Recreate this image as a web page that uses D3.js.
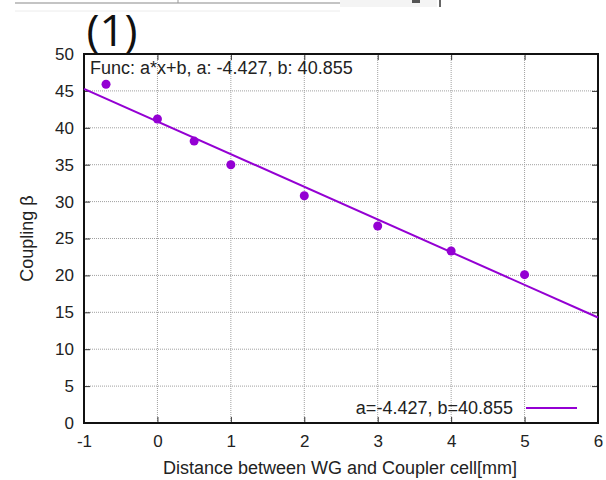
<!DOCTYPE html>
<html>
<head>
<meta charset="utf-8">
<script src="https://cdn.jsdelivr.net/npm/d3@7"></script>
<style>
  body { margin: 0; background: #fff; }
  svg { display: block; }
  text { font-family: "Liberation Sans", Arial, sans-serif; }
</style>
</head>
<body>
<div id="chart"></div>
<script>
// measured points
const distance = [-0.7, 0, 0.5, 1, 2, 3, 4, 5];
const coupling = [45.9, 41.2, 38.2, 35.0, 30.8, 26.7, 23.3, 20.1];

// fit result
const fitA = -4.427;
const fitB = 40.855;

const xTicks = [-1, 0, 1, 2, 3, 4, 5, 6];
const yTicks = [0, 5, 10, 15, 20, 25, 30, 35, 40, 45, 50];

const width = 606;
const height = 480;
const margin = { top: 54, right: 8, bottom: 57, left: 84 };
const purple = '#9400d3';

const svg = d3.select('#chart')
  .append('svg')
  .attr('width', width)
  .attr('height', height);

// bits of the screenshot around the chart
svg.append('line').attr('x1', 15).attr('x2', 340).attr('y1', 3).attr('y2', 3)
  .attr('stroke', '#b0b0b0').attr('stroke-width', 1.5);
svg.append('line').attr('x1', 178).attr('x2', 178).attr('y1', 0).attr('y2', 3)
  .attr('stroke', '#999');
svg.append('line').attr('x1', 15).attr('x2', 340).attr('y1', 11).attr('y2', 11)
  .attr('stroke', '#ececec');
svg.append('rect').attr('x', 340).attr('y', 0).attr('width', 97).attr('height', 7)
  .attr('fill', '#f4f4f4');
svg.append('rect').attr('x', 412).attr('y', 0).attr('width', 8).attr('height', 3)
  .attr('fill', '#555');
svg.append('line').attr('x1', 440).attr('x2', 440).attr('y1', 0).attr('y2', 7)
  .attr('stroke', '#333').attr('stroke-width', 1.5);

svg.append('text')
  .attr('x', 112)
  .attr('y', 46)
  .attr('text-anchor', 'middle')
  .attr('font-size', '44px')
  .style('font-family', '"Open Sans", "Noto Sans", sans-serif')
  .attr('fill', '#111')
  .text('(1)');

const x = d3.scaleLinear()
  .domain([-1, 6])
  .range([margin.left, width - margin.right]);

const y = d3.scaleLinear()
  .domain([0, 50])
  .range([height - margin.bottom, margin.top]);

// dotted grid
const grid = svg.append('g')
  .attr('stroke', '#a0a0a0')
  .attr('stroke-width', 1)
  .attr('stroke-dasharray', '1,1');

grid.selectAll('.gx')
  .data(xTicks.slice(1, -1))
  .join('line')
  .attr('x1', d => x(d)).attr('x2', d => x(d))
  .attr('y1', y(0)).attr('y2', y(50));

grid.selectAll('.gy')
  .data(yTicks.slice(1, -1))
  .join('line')
  .attr('x1', x(-1)).attr('x2', x(6))
  .attr('y1', d => y(d)).attr('y2', d => y(d));

// axes with inward ticks
const plain = d => String(d);

const xAxis = svg.append('g')
  .attr('transform', `translate(0,${y(0)})`)
  .call(d3.axisBottom(x).tickValues(xTicks).tickSize(-6).tickPadding(12).tickFormat(plain));

const xAxisTop = svg.append('g')
  .attr('transform', `translate(0,${y(50)})`)
  .call(d3.axisTop(x).tickValues(xTicks).tickSize(-6).tickFormat(''));

const yAxis = svg.append('g')
  .attr('transform', `translate(${x(-1)},0)`)
  .call(d3.axisLeft(y).tickValues(yTicks).tickSize(-6).tickPadding(10).tickFormat(plain));

const yAxisRight = svg.append('g')
  .attr('transform', `translate(${x(6)},0)`)
  .call(d3.axisRight(y).tickValues(yTicks).tickSize(-6).tickFormat(''));

[xAxis, xAxisTop, yAxis, yAxisRight].forEach(g => {
  g.select('.domain').remove();
  g.selectAll('.tick line').attr('stroke', '#333');
  g.selectAll('text')
    .attr('font-size', '17px')
    .attr('fill', '#222')
    .style('font-family', '"Liberation Sans", Arial, sans-serif');
});

// frame
svg.append('rect')
  .attr('x', x(-1))
  .attr('y', y(50))
  .attr('width', x(6) - x(-1))
  .attr('height', y(0) - y(50))
  .attr('fill', 'none')
  .attr('stroke', '#111')
  .attr('stroke-width', 2);

// fitted line
const fitLine = d3.line()
  .x(d => x(d))
  .y(d => y(fitA * d + fitB));

svg.append('path')
  .datum([-1, 6])
  .attr('d', fitLine)
  .attr('fill', 'none')
  .attr('stroke', purple)
  .attr('stroke-width', 2);

// data points
svg.selectAll('.pt')
  .data(distance)
  .join('circle')
  .attr('cx', d => x(d))
  .attr('cy', (d, i) => y(coupling[i]))
  .attr('r', 4.5)
  .attr('fill', purple);

// labels
svg.append('text')
  .attr('x', 90)
  .attr('y', 74)
  .attr('font-size', '18px')
  .attr('fill', '#222')
  .text(`Func: a*x+b, a: ${fitA}, b: ${fitB}`);

svg.append('text')
  .attr('x', 513)
  .attr('y', 414)
  .attr('text-anchor', 'end')
  .attr('font-size', '18px')
  .attr('fill', '#222')
  .text(`a=${fitA}, b=${fitB}`);

svg.append('line')
  .attr('x1', 526).attr('x2', 577)
  .attr('y1', 408).attr('y2', 408)
  .attr('stroke', purple)
  .attr('stroke-width', 2);

svg.append('text')
  .attr('x', 340)
  .attr('y', 474)
  .attr('text-anchor', 'middle')
  .attr('font-size', '18px')
  .attr('fill', '#222')
  .text('Distance between WG and Coupler cell[mm]');

svg.append('text')
  .attr('transform', `translate(33,${(y(0) + y(50)) / 2}) rotate(-90)`)
  .attr('text-anchor', 'middle')
  .attr('font-size', '18px')
  .attr('fill', '#222')
  .text('Coupling β');
</script>
</body>
</html>
